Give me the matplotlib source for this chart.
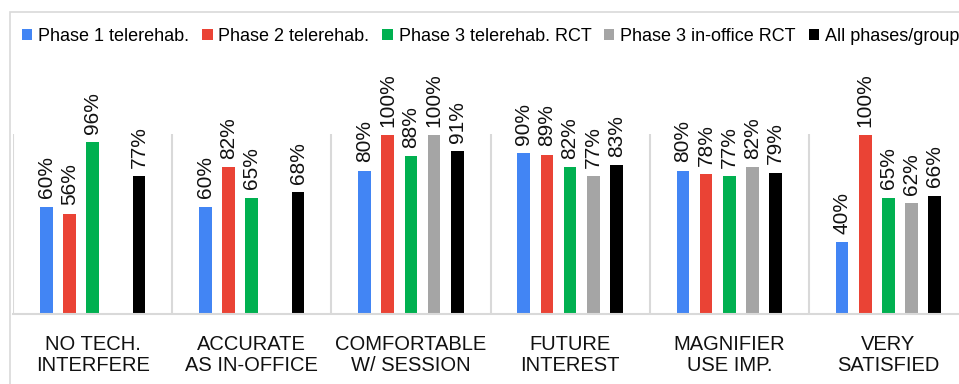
import matplotlib
matplotlib.use("Agg")
import matplotlib.pyplot as plt
from matplotlib.patches import Rectangle
import numpy as np

plt.rcParams['font.family'] = ['Liberation Sans', 'DejaVu Sans']

# survey items (x axis) and the five groups
categorias = ['NO TECH.\nINTERFERE', 'ACCURATE\nAS IN-OFFICE', 'COMFORTABLE\nW/ SESSION',
              'FUTURE\nINTEREST', 'MAGNIFIER\nUSE IMP.', 'VERY\nSATISFIED']
grupos = ['Phase 1 telerehab.', 'Phase 2 telerehab.', 'Phase 3 telerehab. RCT',
          'Phase 3 in-office RCT', 'All phases/groups']
colores = ['#4285F4', '#EA4335', '#00B050', '#A5A5A5', '#000000']

# percentages per group (None = item not asked)
fase1 = [60, 60, 80, 90, 80, 40]
fase2 = [56, 82, 100, 89, 78, 100]
fase3_tele = [96, 65, 88, 82, 77, 65]
fase3_oficina = [None, None, 100, 77, 82, 62]
todos = [77, 68, 91, 83, 79, 66]
series = [fase1, fase2, fase3_tele, fase3_oficina, todos]

fig = plt.figure(figsize=(9.59, 3.84), dpi=100)
ax = fig.add_axes([13 / 959, 70 / 384, 955 / 959, 180.5 / 384])

x = np.arange(len(categorias))
paso = 0.1455
ancho = 0.079
for i, (valores, color, nombre) in enumerate(zip(series, colores, grupos)):
    alturas = [np.nan if v is None else v for v in valores]
    barras = ax.bar(x + (i - 2) * paso, alturas, width=ancho, color=color, label=nombre)
    etiquetas = ['' if v is None else f'{v}%' for v in valores]
    ax.bar_label(barras, labels=etiquetas, rotation=90, padding=6, fontsize=15,
                 color='#111111', annotation_clip=False)

ax.set_xlim(-0.5, 5.5)
ax.set_ylim(0, 100.8)

# separators between the items
ax.vlines(np.arange(-0.5, 6.0, 1.0), 0, 100.8, color='#D9D9D9', lw=1.5, zorder=0)
for lado in ['top', 'right', 'left']:
    ax.spines[lado].set_visible(False)
ax.spines['bottom'].set_color('#D9D9D9')
ax.spines['bottom'].set_linewidth(1.5)

ax.set_yticks([])
ax.set_xticks(x)
ax.set_xticklabels(categorias, fontsize=14.5, color='#111111', linespacing=1.12)
ax.tick_params(axis='x', length=0, pad=15)

ax.legend(loc='upper left', bbox_to_anchor=(22 / 959, 1 - 28 / 384),
          bbox_transform=fig.transFigure, ncol=5, frameon=False, fontsize=13,
          handlelength=0.58, handleheight=0.58, handletextpad=0.33,
          columnspacing=0.7, borderpad=0, borderaxespad=0)

# outer chart frame
fig.add_artist(Rectangle((9.5 / 959, -0.3), 1.2, 1.3 - 12.5 / 384, transform=fig.transFigure,
                         fill=False, edgecolor='#D9D9D9', lw=1.2))

fig.savefig('out.png', dpi=100)
plt.close(fig)
